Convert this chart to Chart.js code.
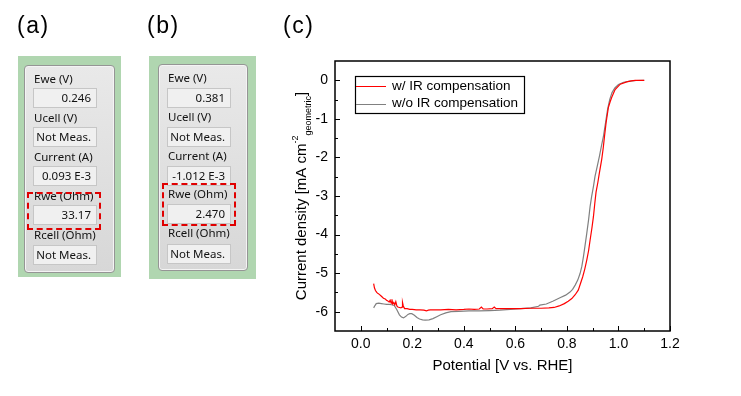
<!DOCTYPE html>
<html>
<head>
<meta charset="utf-8">
<script src="https://cdn.jsdelivr.net/npm/chart.js@4.4.0/dist/chart.umd.min.js"></script>
<style>
  html, body { margin: 0; padding: 0; background: #fff; }
  #wrap { position: relative; width: 741px; height: 396px; overflow: hidden; }
  #myChart { position: absolute; left: 0; top: 0; }
  .tag { position: absolute; font: 23px "Liberation Sans", Arial, sans-serif; letter-spacing: 1.5px; line-height: 1; color: #000; }
  .green { position: absolute; background: #b0d6b0; }
  .gbox { position: absolute; box-sizing: border-box; background: linear-gradient(#e9e9e9, #d7d7d7); border: 1px solid #959595; border-radius: 4px; box-shadow: inset 0 0 0 1px #f4f4f4; }
  .lab { position: absolute; font: 11.5px "Noto Sans", sans-serif; color: #111; line-height: 16px; white-space: nowrap; }
  .val { position: absolute; box-sizing: border-box; width: 64px; height: 20px; background: #f0f0f0; border: 1px solid #c6c6c6; font: 11.5px "Noto Sans", sans-serif; color: #111; line-height: 18px; text-align: right; padding-right: 5px; white-space: nowrap; }
  .dash { position: absolute; box-sizing: border-box; border: 2px dashed #e00000; }
</style>
</head>
<body>
<div id="wrap">
  <canvas id="myChart" width="741" height="396"></canvas>
  <div class="tag" style="left:17px;top:14px">(a)</div>
  <div class="tag" style="left:147px;top:14px">(b)</div>
  <div class="tag" style="left:283px;top:14px">(c)</div>
</div>
<script>
// panel readouts
const rowLabels = ["Ewe (V)", "Ucell (V)", "Current (A)", "Rwe (Ohm)", "Rcell (Ohm)"];
const valuesA = ["0.246", "Not Meas.", "0.093 E-3", "33.17", "Not Meas."];
const valuesB = ["0.381", "Not Meas.", "-1.012 E-3", "2.470", "Not Meas."];

// LSV curves
const potWith = [
  0.050, 0.053, 0.057, 0.062, 0.067, 0.072, 0.080, 0.088, 0.095, 0.100,
  0.105, 0.110, 0.114, 0.118, 0.121, 0.124, 0.128, 0.132, 0.136, 0.140,
  0.144, 0.150, 0.156, 0.160, 0.162, 0.165, 0.170, 0.180, 0.190, 0.200,
  0.215, 0.230, 0.245, 0.255, 0.262, 0.270, 0.290, 0.310, 0.340, 0.370,
  0.400, 0.420, 0.440, 0.460, 0.468, 0.475, 0.490, 0.510, 0.518, 0.525,
  0.550, 0.580, 0.620, 0.660, 0.700, 0.730, 0.750, 0.770, 0.790, 0.805,
  0.819, 0.832, 0.844, 0.852, 0.861, 0.869, 0.877, 0.884, 0.890, 0.897,
  0.903, 0.908, 0.913, 0.920, 0.926, 0.935, 0.941, 0.946, 0.952, 0.961,
  0.968, 0.974, 0.987, 1.007, 1.032, 1.050, 1.065, 1.100,
];
const curWith = [
  -5.27, -5.38, -5.45, -5.50, -5.53, -5.55, -5.60, -5.65, -5.67, -5.70,
  -5.72, -5.75, -5.70, -5.78, -5.68, -5.80, -5.76, -5.82, -5.74, -5.85,
  -5.88, -5.89, -5.90, -5.88, -5.76, -5.85, -5.92, -5.92, -5.94, -5.94,
  -5.95, -5.95, -5.96, -5.98, -5.96, -5.95, -5.95, -5.95, -5.94, -5.95,
  -5.94, -5.93, -5.94, -5.93, -5.88, -5.93, -5.93, -5.92, -5.88, -5.92,
  -5.92, -5.92, -5.92, -5.91, -5.91, -5.90, -5.89, -5.85, -5.79, -5.73,
  -5.66, -5.56, -5.44, -5.28, -5.10, -4.90, -4.66, -4.42, -4.14, -3.83,
  -3.53, -3.20, -2.90, -2.65, -2.40, -2.05, -1.75, -1.44, -1.10, -0.70,
  -0.55, -0.44, -0.24, -0.10, -0.04, -0.015, 0.00, 0.00,
];
const potWithout = [
  0.050, 0.055, 0.060, 0.070, 0.080, 0.090, 0.100, 0.110, 0.120, 0.130,
  0.140, 0.150, 0.158, 0.166, 0.175, 0.183, 0.190, 0.198, 0.208, 0.218,
  0.228, 0.240, 0.250, 0.265, 0.280, 0.295, 0.310, 0.330, 0.350, 0.380,
  0.420, 0.460, 0.500, 0.540, 0.580, 0.620, 0.660, 0.690, 0.695, 0.720,
  0.745, 0.773, 0.795, 0.812, 0.822, 0.832, 0.842, 0.851, 0.858, 0.864,
  0.870, 0.877, 0.884, 0.890, 0.896, 0.903, 0.909, 0.918, 0.926, 0.934,
  0.942, 0.950, 0.958, 0.966, 0.975, 0.986, 1.000, 1.020, 1.045, 1.070,
  1.100,
];
const curWithout = [
  -5.90, -5.84, -5.79, -5.78, -5.79, -5.80, -5.81, -5.81, -5.82, -5.84,
  -5.95, -6.08, -6.14, -6.16, -6.12, -6.07, -6.05, -6.05, -6.09, -6.15,
  -6.19, -6.21, -6.22, -6.21, -6.18, -6.13, -6.08, -6.03, -6.00, -5.99,
  -5.98, -5.98, -5.97, -5.96, -5.94, -5.92, -5.90, -5.86, -5.83, -5.80,
  -5.73, -5.64, -5.57, -5.49, -5.42, -5.31, -5.18, -5.01, -4.82, -4.58,
  -4.30, -3.97, -3.62, -3.27, -3.01, -2.75, -2.49, -2.22, -1.97, -1.70,
  -1.44, -1.10, -0.75, -0.50, -0.32, -0.20, -0.11, -0.05, -0.02, -0.005,
  0.00,
];

const xTicks = [0, 0.2, 0.4, 0.6, 0.8, 1.0, 1.2];
const xMinor = [0.1, 0.3, 0.5, 0.7, 0.9, 1.1];
const yTicks = [0, -1, -2, -3, -4, -5, -6];
const yMinor = [-0.5, -1.5, -2.5, -3.5, -4.5, -5.5];

// build the two screenshot panels
function buildPanel(greenBox, grayBox, labX, labY, boxX, boxY, values, dashBox) {
  const wrap = document.getElementById("wrap");
  const add = (cls, x, y, w, h, txt) => {
    const d = document.createElement("div");
    d.className = cls;
    d.style.left = x + "px";
    d.style.top = y + "px";
    if (w) d.style.width = w + "px";
    if (h) d.style.height = h + "px";
    if (txt) d.textContent = txt;
    wrap.appendChild(d);
  };
  add("green", ...greenBox);
  add("gbox", ...grayBox);
  rowLabels.forEach((t, i) => {
    add("lab", labX, labY[i] - 8, 0, 0, t);
    add("val", boxX, boxY[i], 0, 0, values[i]);
  });
  add("dash", ...dashBox);
}
buildPanel([18, 56, 103, 221], [24, 65, 91, 208], 34, [79, 118, 157, 196, 235],
  33, [88, 127, 166, 205, 245], valuesA, [27, 192, 74, 38]);
buildPanel([149, 56, 107, 223], [158, 64, 90, 207], 168, [78, 117, 156, 194, 233],
  167, [88, 127, 166, 204, 244], valuesB, [162, 183, 74, 43]);

const FONT = '"Liberation Sans", Arial, sans-serif';

const framePlugin = {
  id: "frame",
  afterDraw(chart) {
    const { ctx, chartArea: a } = chart;
    const x = chart.scales.x;
    const y = chart.scales.y;
    ctx.save();
    ctx.strokeStyle = "#000";
    ctx.lineWidth = 1;
    ctx.beginPath();
    xTicks.forEach((v) => {
      const p = Math.round(x.getPixelForValue(v)) + 0.5;
      ctx.moveTo(p, a.bottom); ctx.lineTo(p, a.bottom - 5);
    });
    xMinor.forEach((v) => {
      const p = Math.round(x.getPixelForValue(v)) + 0.5;
      ctx.moveTo(p, a.bottom); ctx.lineTo(p, a.bottom - 3);
    });
    yTicks.forEach((v) => {
      const p = Math.round(y.getPixelForValue(v)) + 0.5;
      ctx.moveTo(a.left, p); ctx.lineTo(a.left + 5, p);
    });
    yMinor.forEach((v) => {
      const p = Math.round(y.getPixelForValue(v)) + 0.5;
      ctx.moveTo(a.left, p); ctx.lineTo(a.left + 3, p);
    });
    ctx.stroke();
    ctx.lineWidth = 1.5;
    ctx.strokeRect(a.left, a.top, a.right - a.left, a.bottom - a.top);

    // legend box
    const lx = 355, ly = 76, lw = 169, lh = 37;
    ctx.lineWidth = 1.2;
    ctx.strokeRect(lx + 0.5, ly + 0.5, lw, lh);
    ctx.font = "13.5px " + FONT;
    ctx.textBaseline = "middle";
    ctx.textAlign = "left";
    chart.data.datasets.forEach((ds, i) => {
      const yy = ly + 10 + i * 17.5;
      ctx.strokeStyle = ds.borderColor;
      ctx.lineWidth = 1;
      ctx.beginPath();
      ctx.moveTo(lx + 1, Math.round(yy) + 0.5);
      ctx.lineTo(lx + 31, Math.round(yy) + 0.5);
      ctx.stroke();
      ctx.fillStyle = "#000";
      ctx.fillText(ds.label, lx + 37, yy);
    });

    // axis titles
    ctx.fillStyle = "#000";
    ctx.font = "15px " + FONT;
    ctx.textAlign = "center";
    ctx.fillText("Potential [V vs. RHE]", (a.left + a.right) / 2, 366);

    const parts = [
      { t: "Current density [mA cm", f: 15, off: 0 },
      { t: "-2", f: 9, off: -6 },
      { t: "geometric", f: 9, off: 7 },
      { t: "]", f: 15, off: 0 },
    ];
    let total = 0;
    parts.forEach((p) => { ctx.font = p.f + "px " + FONT; p.w = ctx.measureText(p.t).width; total += p.w; });
    ctx.translate(302, (a.top + a.bottom) / 2);
    ctx.rotate(-Math.PI / 2);
    ctx.textAlign = "left";
    let cx = -total / 2;
    parts.forEach((p) => {
      ctx.font = p.f + "px " + FONT;
      ctx.fillText(p.t, cx, p.off);
      cx += p.w;
    });
    ctx.restore();
  },
};

new Chart("myChart", {
  type: "line",
  data: {
    datasets: [
      {
        label: "w/ IR compensation",
        data: potWith.map((v, i) => ({ x: v, y: curWith[i] })),
        borderColor: "#ff0000",
        borderWidth: 1.2,
        pointRadius: 0,
        tension: 0,
      },
      {
        label: "w/o IR compensation",
        data: potWithout.map((v, i) => ({ x: v, y: curWithout[i] })),
        borderColor: "#808080",
        borderWidth: 1.2,
        pointRadius: 0,
        tension: 0,
      },
    ],
  },
  options: {
    responsive: false,
    animation: false,
    layout: { padding: { left: 285, right: 71, top: 61, bottom: 20 } },
    scales: {
      x: {
        type: "linear",
        min: -0.1,
        max: 1.2,
        afterBuildTicks: (s) => { s.ticks = xTicks.map((v) => ({ value: v })); },
        afterFit: (s) => { s.height = 45; },
        grid: { display: false, drawTicks: false },
        border: { display: false },
        ticks: {
          padding: 5,
          color: "#000",
          font: { family: FONT, size: 14 },
          maxRotation: 0,
          callback: (v) => v.toFixed(1),
        },
      },
      y: {
        min: -6.5,
        max: 0.5,
        afterBuildTicks: (s) => { s.ticks = yTicks.map((v) => ({ value: v })); },
        afterFit: (s) => { s.width = 50; },
        grid: { display: false, drawTicks: false },
        border: { display: false },
        ticks: {
          padding: 7,
          color: "#000",
          font: { family: FONT, size: 14 },
          callback: (v) => String(v),
        },
      },
    },
    plugins: {
      legend: { display: false },
      tooltip: { enabled: false },
    },
  },
  plugins: [framePlugin],
});
</script>
</body>
</html>
